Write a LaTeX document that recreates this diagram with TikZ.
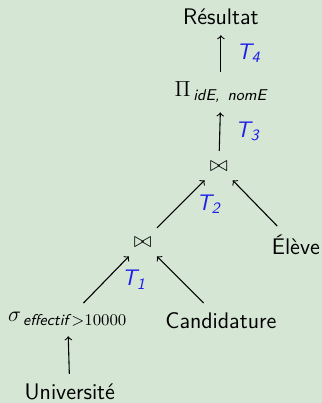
\documentclass[tikz,border=0pt]{standalone}
\usepackage{fontspec}
\renewcommand{\familydefault}{\sfdefault}
\definecolor{fond}{RGB}{213,230,213}
\definecolor{etiq}{RGB}{30,30,235}
\newcommand{\tr}[1]{\textcolor{etiq}{\itshape T\textsubscript{#1}}}
\newcommand{\attr}[1]{\mbox{\fontsize{8.6}{10}\selectfont\itshape #1}}

\begin{document}
\begin{tikzpicture}[font=\fontsize{12.4}{14}\selectfont, >=to,
        every path/.style={line width=0.6pt, shorten >=2pt, shorten <=2pt}]
        \fill[fond] (0,0) rectangle (6.22,7.79);
        \useasboundingbox (0,0) rectangle (6.22,7.79);

        \node at (4.27,7.46) (R) {Résultat};
        \node at (4.27,6.01) (P) {$\Pi_{\,\attr{idE, \,nomE}}$};
        \node at (4.23,4.58) (J2) {$\bowtie$};
        \node at (5.72,3.05) (E) {Élève};
        \node at (2.76,3.11) (J1) {$\bowtie$};
        \node at (1.31,1.62) (S) {$\sigma_{\,\attr{effectif}\,>10000}$};
        \node at (4.27,1.60) (C) {Candidature};
        \node at (1.35,0.21) (U) {Université};

        \draw[->] (U) -- (S);
        \draw[->] (S) -- (J1) node [midway, right=5pt] (t1) {\tr{1}};
        \draw[->] (C) -- (J1);
        \draw[->] (J1) -- (J2) node [midway, right=5pt] (t2) {\tr{2}};
        \draw[->] (E) -- (J2);
        \draw[->] (J2) -- (P) node [midway, right=5pt] (t3) {\tr{3}};
        \draw[->] (P) -- (R) node [midway, right=5pt] (t4) {\tr{4}};

    \end{tikzpicture}
\end{document}
